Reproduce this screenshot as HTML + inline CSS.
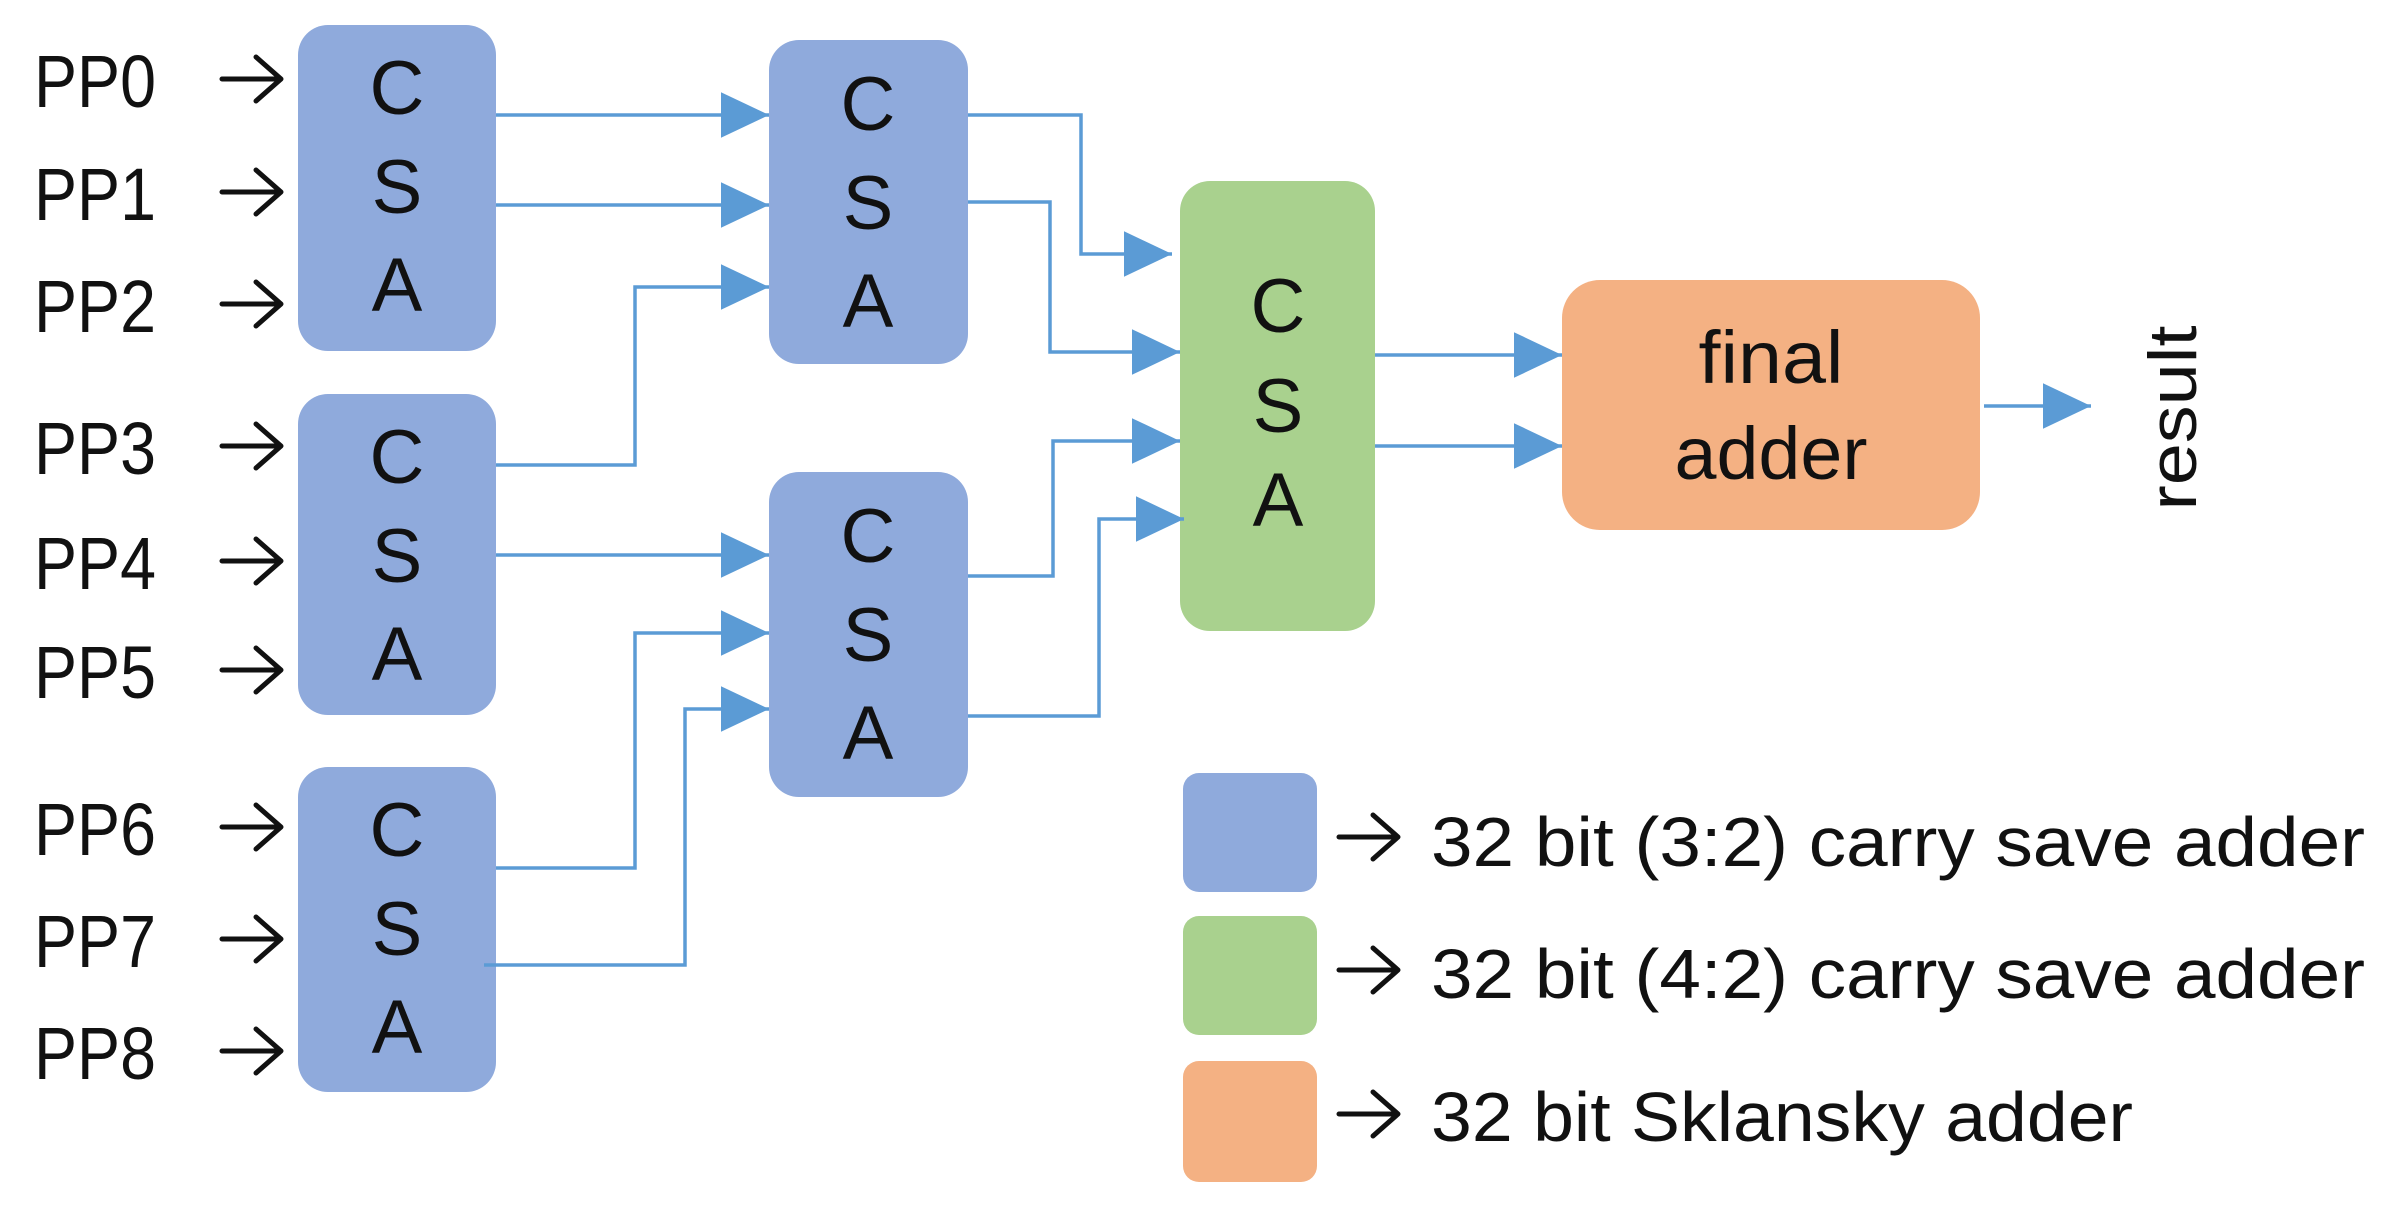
<!DOCTYPE html>
<html><head><meta charset="utf-8"><style>html,body{margin:0;padding:0;background:#fff}svg{display:block}</style></head><body>
<svg width="2400" height="1209" viewBox="0 0 2400 1209" xmlns="http://www.w3.org/2000/svg" font-family="Liberation Sans, sans-serif">
<defs>
<marker id="ah" markerWidth="60" markerHeight="60" refX="0" refY="0" orient="auto" markerUnits="userSpaceOnUse" viewBox="-45 -25 50 50">
<path d="M-40,-19 L0,0 L-40,19 z" fill="#5b9bd5"/>
</marker>
</defs>
<g fill="#8faadc">
<rect x="298" y="25" width="198" height="326" rx="30"/>
<rect x="769" y="40" width="199" height="324" rx="30"/>
<rect x="298" y="394" width="198" height="321" rx="30"/>
<rect x="769" y="472" width="199" height="325" rx="30"/>
<rect x="298" y="767" width="198" height="325" rx="30"/>
<rect x="1183" y="773" width="134" height="119" rx="16"/>
</g>
<rect x="1180" y="181" width="195" height="450" rx="30" fill="#a9d18e"/>
<rect x="1183" y="916" width="134" height="119" rx="16" fill="#a9d18e"/>
<rect x="1562" y="280" width="418" height="250" rx="38" fill="#f4b183"/>
<rect x="1183" y="1061" width="134" height="121" rx="16" fill="#f4b183"/>

<g font-size="76" text-anchor="middle" fill="#111">
<text x="397" y="114">C</text><text x="397" y="213">S</text><text x="397" y="311">A</text>
<text x="868" y="130">C</text><text x="868" y="229">S</text><text x="868" y="327">A</text>
<text x="397" y="483">C</text><text x="397" y="582">S</text><text x="397" y="680">A</text>
<text x="868" y="562">C</text><text x="868" y="661">S</text><text x="868" y="759">A</text>
<text x="397" y="856">C</text><text x="397" y="955">S</text><text x="397" y="1053">A</text>
<text x="1278" y="332">C</text><text x="1278" y="432">S</text><text x="1278" y="526">A</text>
</g>

<g font-size="74" fill="#111">
<text x="34" y="107" textLength="122" lengthAdjust="spacingAndGlyphs">PP0</text>
<text x="34" y="220" textLength="122" lengthAdjust="spacingAndGlyphs">PP1</text>
<text x="34" y="332" textLength="122" lengthAdjust="spacingAndGlyphs">PP2</text>
<text x="34" y="474" textLength="122" lengthAdjust="spacingAndGlyphs">PP3</text>
<text x="34" y="589" textLength="122" lengthAdjust="spacingAndGlyphs">PP4</text>
<text x="34" y="698" textLength="122" lengthAdjust="spacingAndGlyphs">PP5</text>
<text x="34" y="855" textLength="122" lengthAdjust="spacingAndGlyphs">PP6</text>
<text x="34" y="967" textLength="122" lengthAdjust="spacingAndGlyphs">PP7</text>
<text x="34" y="1079" textLength="122" lengthAdjust="spacingAndGlyphs">PP8</text>
</g>

<g stroke="#111" stroke-width="5" fill="none" stroke-linecap="round" stroke-linejoin="round">
<path d="M222,79 H280 M256,57 L281,79 L256,101"/>
<path d="M222,192 H280 M256,170 L281,192 L256,214"/>
<path d="M222,304 H280 M256,282 L281,304 L256,326"/>
<path d="M222,446 H280 M256,424 L281,446 L256,468"/>
<path d="M222,561 H280 M256,539 L281,561 L256,583"/>
<path d="M222,670 H280 M256,648 L281,670 L256,692"/>
<path d="M222,827 H280 M256,805 L281,827 L256,849"/>
<path d="M222,939 H280 M256,917 L281,939 L256,961"/>
<path d="M222,1051 H280 M256,1029 L281,1051 L256,1073"/>
<path d="M1339,837 H1397 M1373,815 L1398,837 L1373,859"/>
<path d="M1339,970 H1397 M1373,948 L1398,970 L1373,992"/>
<path d="M1339,1114 H1397 M1373,1092 L1398,1114 L1373,1136"/>
</g>

<g stroke="#5b9bd5" stroke-width="3.5" fill="none" marker-end="url(#ah)">
<path d="M496,115 H769"/>
<path d="M496,205 H769"/>
<path d="M496,465 H635 V287 H769"/>
<path d="M496,555 H769"/>
<path d="M496,868 H635 V633 H769"/>
<path d="M484,965 H685 V709 H769"/>
<path d="M968,115 H1081 V254 H1172"/>
<path d="M968,202 H1050 V352 H1180"/>
<path d="M968,576 H1053 V441 H1180"/>
<path d="M968,716 H1099 V519 H1184"/>
<path d="M1375,355 H1562"/>
<path d="M1375,446 H1562"/>
<path d="M1984,406 H2091"/>
</g>

<g font-size="74" fill="#111" text-anchor="middle">
<text x="1771" y="383" textLength="145" lengthAdjust="spacingAndGlyphs">final</text>
<text x="1771" y="479" textLength="193" lengthAdjust="spacingAndGlyphs">adder</text>
</g>
<text transform="translate(2196,418) rotate(-90)" font-size="68" text-anchor="middle" fill="#111" textLength="185" lengthAdjust="spacingAndGlyphs">result</text>

<g font-size="70" fill="#111">
<text x="1431" y="866" textLength="934" lengthAdjust="spacingAndGlyphs">32 bit (3:2) carry save adder</text>
<text x="1431" y="998" textLength="934" lengthAdjust="spacingAndGlyphs">32 bit (4:2) carry save adder</text>
<text x="1431" y="1141" textLength="702" lengthAdjust="spacingAndGlyphs">32 bit Sklansky adder</text>
</g>
</svg>
</body></html>
